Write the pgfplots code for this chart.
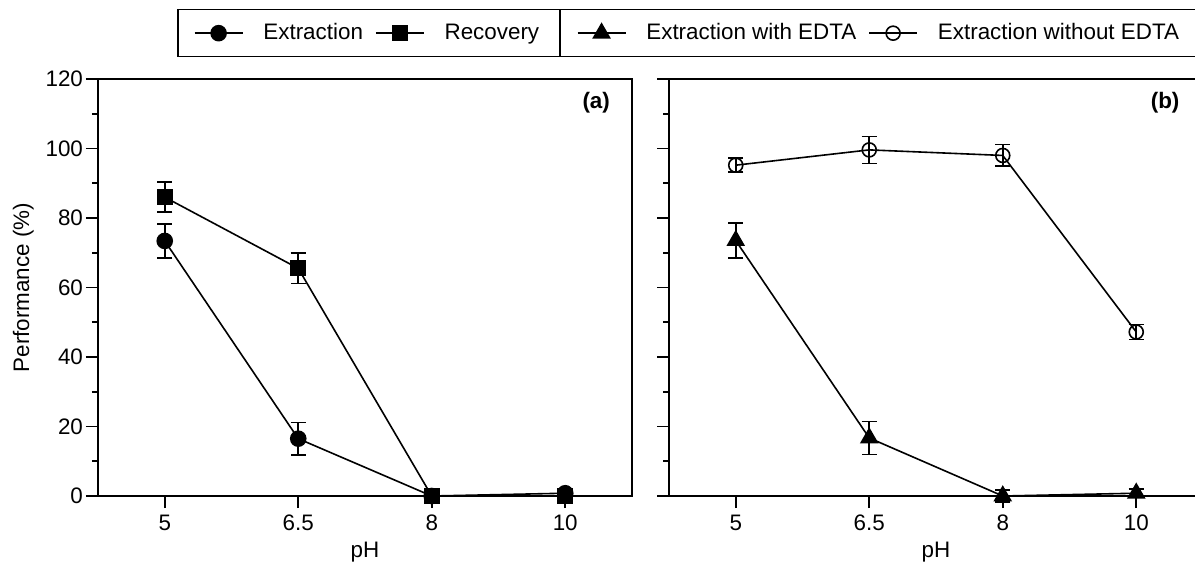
\documentclass[border=0pt]{standalone}
\usepackage{fontspec}
\setmainfont{Liberation Sans}
\usepackage{pgfplots}
\pgfplotsset{compat=1.18}
\usepackage{pgfplotstable}

\pgfplotstableread{
x y e
0 73.4 4.9
1 16.5 4.7
2 0 0
3 0.8 0
}\extr
\pgfplotstableread{
x y e
0 86.0 4.3
1 65.5 4.4
2 0 0
3 0 0
}\recov
\pgfplotstableread{
x y e
0 73.5 5.0
1 16.7 4.7
2 0 1.8
3 0.8 1.2
}\withedta
\pgfplotstableread{
x y e
0 95.2 2.0
1 99.6 3.9
2 98.0 3.1
3 47.2 2.2
}\withoutedta

\newcommand{\fs}{\fontsize{11.2}{13}\selectfont}

\pgfplotsset{
  panel/.style={
    scale only axis, width=267pt, height=208.5pt,
    xmin=-0.5, xmax=3.5, ymin=0, ymax=120,
    xtick={0,1,2,3}, xticklabels={5,6.5,8,10},
    ytick={0,20,...,120}, minor ytick={10,30,...,110},
    tick align=outside, tick pos=left,
    major tick length=6pt, minor tick length=3pt,
    axis line style={line width=1pt},
    tick style={black, line width=0.8pt},
    /pgf/number format/assume math mode=true,
    tick label style={font=\fs},
    yticklabel style={xshift=2pt},
    label style={font=\fs},
    xlabel={pH},
    xlabel style={at={(axis description cs:0.5,-0.134)}, anchor=center},
    clip=false,
    legend style={draw=black, line width=0.7pt, font=\fs, legend columns=2,
      inner xsep=8pt, inner ysep=5pt,
      /tikz/every odd column/.append style={column sep=8pt},
      /tikz/every even column/.append style={column sep=4pt}},
    legend image code/.code={\draw[mark repeat=2,mark phase=2,#1] plot coordinates {(0pt,0pt) (12pt,0pt) (24pt,0pt)};},
  },
  ser/.style={black, line width=0.8pt,
    error bars/.cd, y dir=both, y explicit,
    error bar style={line width=0.8pt, black},
    error mark options={rotate=90, mark size=3.8pt, line width=0.8pt, black}},
}

\begin{document}
\begin{tikzpicture}
\path[use as bounding box] (-49pt,-39pt) rectangle (548.5pt,248pt);
\clip (-49pt,-39pt) rectangle (548.5pt,248pt);

\begin{axis}[panel, at={(0pt,0pt)}, anchor=south west,
  ylabel={Performance (\%)},
  ylabel style={at={(axis description cs:-0.14,0.5)}, anchor=center},
  legend style={at={(0.865,1.0516)}, anchor=south east}]
\addplot[mark=*, mark size=3.75pt, mark options={solid, fill=black}, ser]
  table[x=x, y=y, y error=e] {\extr};
\addlegendentry{Extraction}
\addplot[mark=square*, mark size=3.6pt, mark options={solid, fill=black}, ser]
  table[x=x, y=y, y error=e] {\recov};
\addlegendentry{Recovery}
\node[font=\fs\bfseries] at (rel axis cs:0.933,0.942) {(a)};
\end{axis}

\begin{axis}[panel, at={(285.5pt,0pt)}, anchor=south west,
  yticklabels={},
  legend style={at={(-0.204,1.0516)}, anchor=south west}]
\addplot[mark=triangle*, mark size=4.6pt, mark options={solid, fill=black}, ser]
  table[x=x, y=y, y error=e] {\withedta};
\addlegendentry{Extraction with EDTA}
\addplot[mark=o, mark size=3.5pt, mark options={solid, line width=0.8pt}, ser]
  table[x=x, y=y, y error=e] {\withoutedta};
\addlegendentry{Extraction without EDTA}
\node[font=\fs\bfseries] at (rel axis cs:0.929,0.942) {(b)};
\end{axis}
\end{tikzpicture}
\end{document}
